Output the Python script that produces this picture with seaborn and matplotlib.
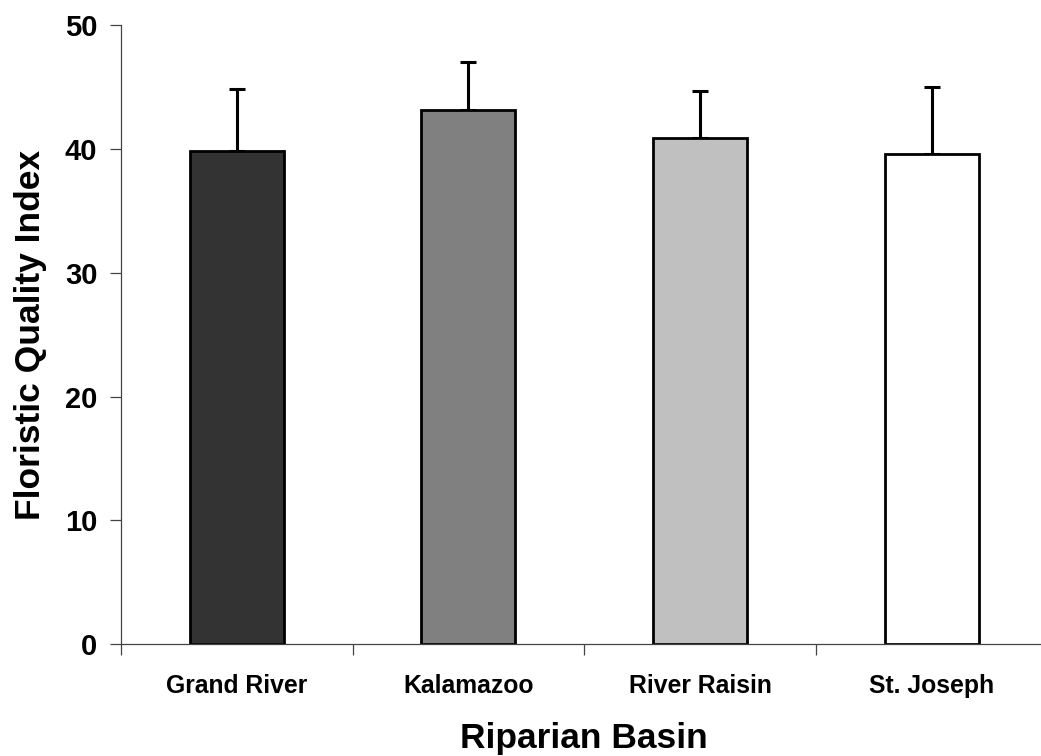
import matplotlib
matplotlib.use("Agg")
import matplotlib.pyplot as plt
import seaborn as sns
import pandas as pd
import numpy as np

basins = ["Grand River", "Kalamazoo", "River Raisin", "St. Joseph"]
fqi_mean = [39.8, 43.1, 40.9, 39.6]
fqi_err = [5.0, 3.9, 3.8, 5.4]
bar_colors = ["#333333", "#808080", "#c0c0c0", "#ffffff"]

sns.set_theme(style="ticks")
plt.rcParams["font.family"] = ["Liberation Sans", "DejaVu Sans"]
plt.rcParams["text.color"] = "black"
plt.rcParams["axes.labelcolor"] = "black"
plt.rcParams["xtick.color"] = "black"
plt.rcParams["ytick.color"] = "black"

df = pd.DataFrame({"basin": basins, "fqi": fqi_mean})

fig = plt.figure(figsize=(10.41, 7.56), dpi=100)
ax = fig.add_axes([121 / 1041, (756 - 644.3) / 756, 926.5 / 1041, 619.3 / 756])

sns.barplot(data=df, x="basin", y="fqi", hue="basin", palette=bar_colors,
            legend=False, width=0.406, edgecolor="black", linewidth=2,
            errorbar=None, ax=ax, zorder=2)

xpos = np.arange(len(basins))
ax.errorbar(xpos, fqi_mean, yerr=[np.zeros(len(fqi_err)), fqi_err],
            fmt="none", ecolor="black", elinewidth=2.2, capsize=6,
            capthick=2.2, zorder=1)

ax.set_ylim(0, 50)
ax.set_xlim(-0.5, 3.5)
ax.set_yticks([0, 10, 20, 30, 40, 50])
ax.set_xticks([-0.5, 0.5, 1.5, 2.5, 3.5], minor=False)
ax.set_xticklabels([])
ax.set_xticks(xpos, minor=True)
ax.set_xticklabels(basins, minor=True, fontsize=17.8, fontweight="bold")
ax.tick_params(axis="x", which="major", direction="out", length=8, width=0.9,
               color="#444444")
ax.tick_params(axis="x", which="minor", length=0, pad=21.5)
ax.tick_params(axis="y", direction="out", length=8, width=0.9, color="#444444",
               labelsize=21, pad=9)
for lab in ax.get_yticklabels():
    lab.set_fontweight("bold")

for side in ["top", "right"]:
    ax.spines[side].set_visible(False)
for side in ["left", "bottom"]:
    ax.spines[side].set_color("#444444")
    ax.spines[side].set_linewidth(0.9)

ax.set_xlabel("Riparian Basin", fontsize=25.5, fontweight="bold", labelpad=17)
ax.set_ylabel("Floristic Quality Index", fontsize=25.5, fontweight="bold",
              labelpad=13)

fig.savefig("out.png", dpi=100)
